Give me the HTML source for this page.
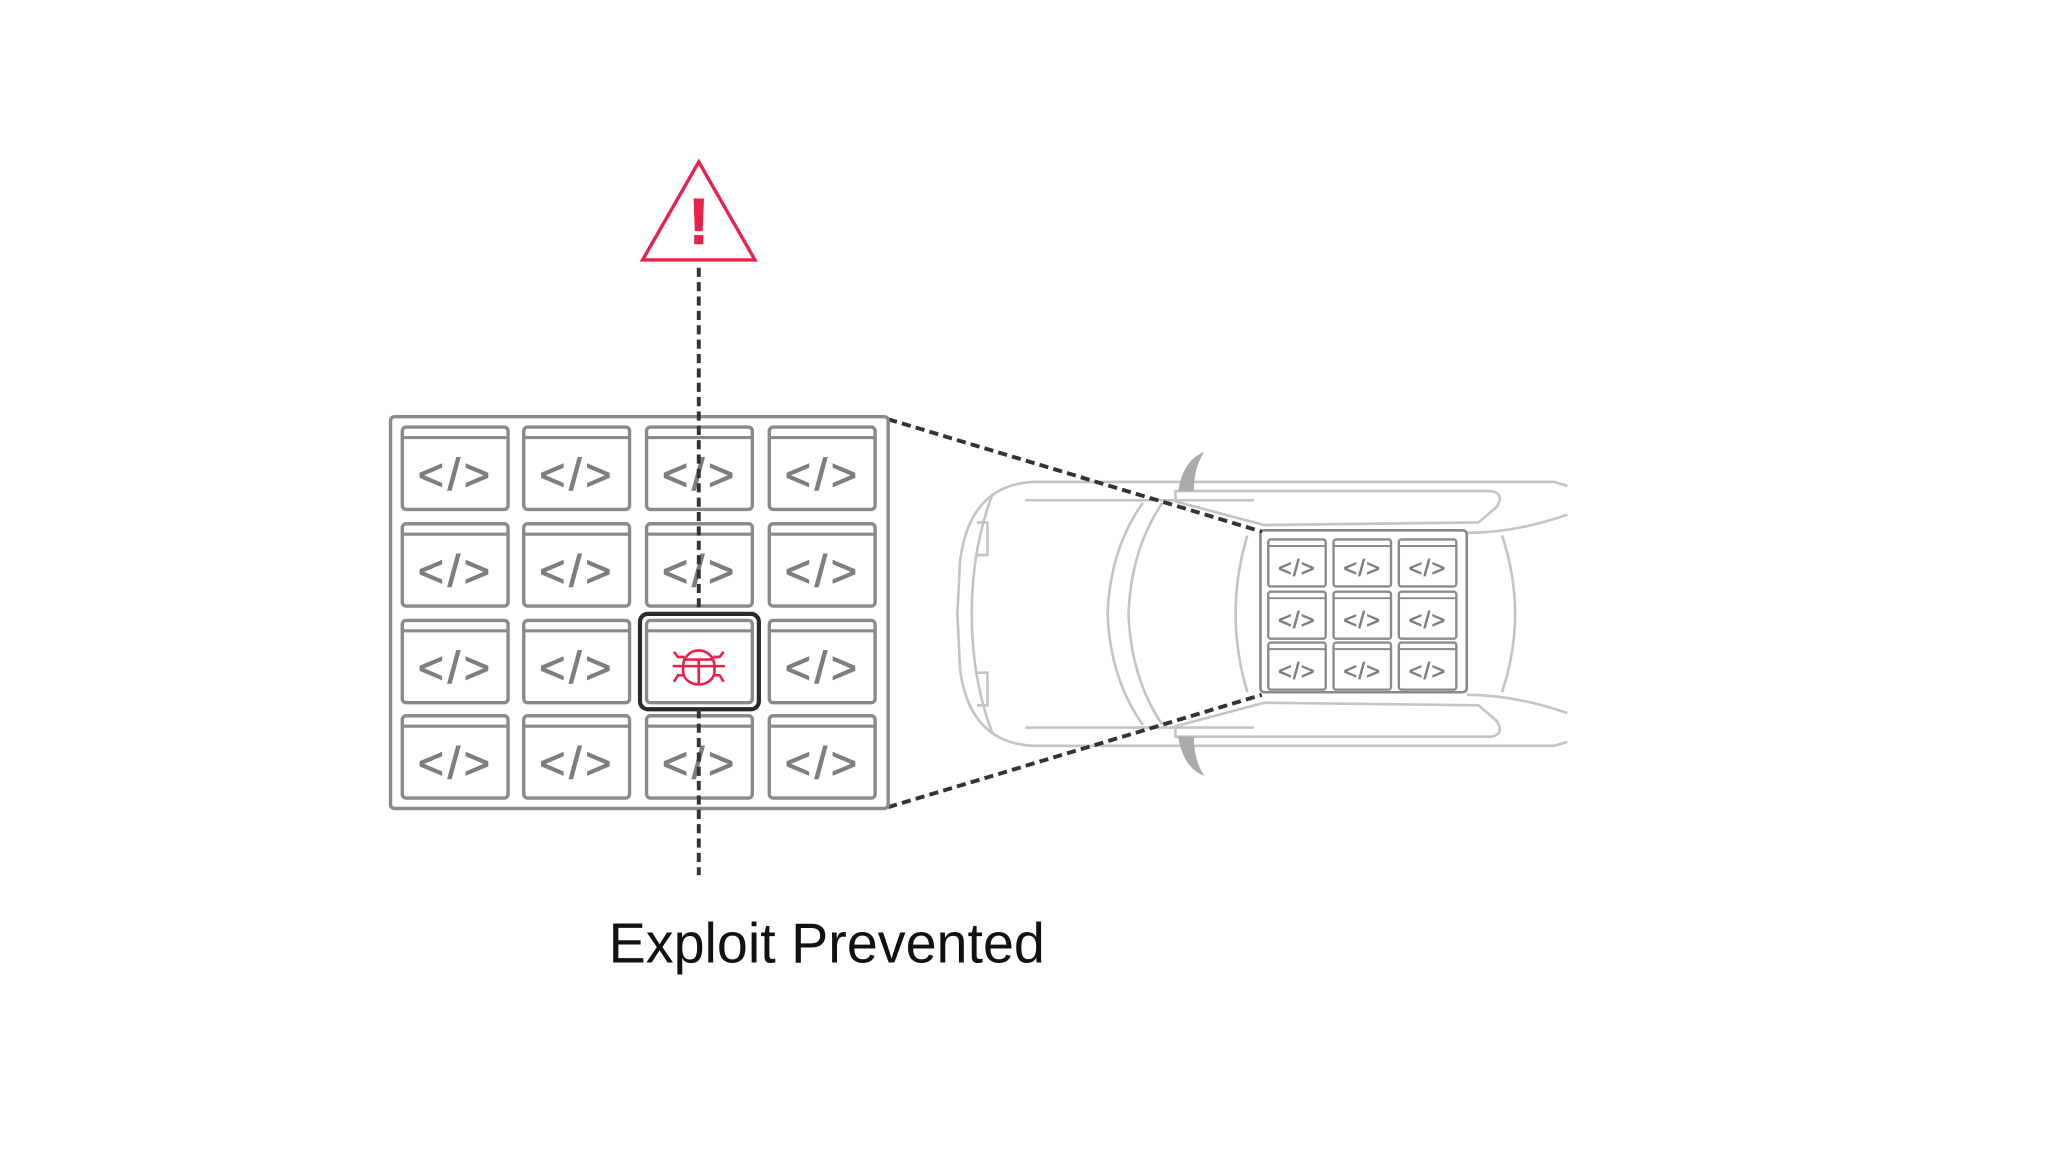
<!DOCTYPE html>
<html><head><meta charset="utf-8"><style>
html,body{margin:0;padding:0;background:#fff;}
svg{display:block;}
</style></head><body>
<svg width="2048" height="1152" viewBox="0 0 1568 882" xmlns="http://www.w3.org/2000/svg">
<defs>
<g id="cell">
 <rect x="0" y="0" width="81" height="63" rx="3" fill="#fff" stroke="#8a8a8a" stroke-width="2.6"/>
 <line x1="0" y1="8" x2="81" y2="8" stroke="#8a8a8a" stroke-width="2.4"/>
 <text x="41" y="48" text-anchor="middle" font-family="Liberation Sans, sans-serif" font-size="34" fill="#7e7e7e" stroke="#7e7e7e" stroke-width="0.8" letter-spacing="3">&lt;/&gt;</text>
</g>
<g id="scell">
 <rect x="0" y="0" width="44" height="36" rx="2" fill="#fff" stroke="#8a8a8a" stroke-width="1.8"/>
 <line x1="0" y1="5" x2="44" y2="5" stroke="#8a8a8a" stroke-width="1.5"/>
 <text x="22" y="28" text-anchor="middle" font-family="Liberation Sans, sans-serif" font-size="18" fill="#7e7e7e" stroke="#7e7e7e" stroke-width="0.5" letter-spacing="1">&lt;/&gt;</text>
</g>
</defs>

<!-- car -->
<g fill="none" stroke="#c4c4c4" stroke-width="2">
 <path d="M1200 372 L1190 369 L790 369 Q742 372 735 430 L733 470 L735 512 Q742 568 790 571 L1190 571 L1200 568"/>
 <path d="M785 383 L960 383 M785 557 L960 557"/>
 <path d="M760 378 Q744 420 744 470 Q744 520 760 562"/>
 <path d="M748 400 L756 400 L756 425 L748 425 M748 515 L756 515 L756 540 L748 540"/>
 <path d="M875 385 Q850 420 848 470 Q850 520 875 555"/>
 <path d="M890 385 Q866 420 864 470 Q866 520 890 555"/>
 <path d="M955 410 Q946 440 946 470 Q946 500 955 530"/>
 <path d="M1150 410 Q1160 440 1160 470 Q1160 500 1150 530"/>
 <path d="M900 376 L1142 376 Q1152 378 1146 388 L1132 400 L968 402 Q930 392 900 384 Z"/>
 <path d="M900 564 L1142 564 Q1152 562 1146 552 L1132 540 L968 538 Q930 548 900 556 Z"/>
 <path d="M1123 408 Q1160 408 1200 394 M1123 532 Q1160 532 1200 546"/>
</g>
<path d="M922 346 Q906 352 902 376 L914 376 Q914 358 922 346 Z" fill="#aaa"/>
<path d="M922 594 Q906 588 902 564 L914 564 Q914 582 922 594 Z" fill="#aaa"/>

<!-- small grid -->
<rect x="965" y="406" width="158" height="124" rx="3" fill="#fff" stroke="#8a8a8a" stroke-width="2"/>
<use href="#scell" x="971" y="413"/><use href="#scell" x="1021" y="413"/><use href="#scell" x="1071" y="413"/>
<use href="#scell" x="971" y="453"/><use href="#scell" x="1021" y="453"/><use href="#scell" x="1071" y="453"/>
<use href="#scell" x="971" y="492"/><use href="#scell" x="1021" y="492"/><use href="#scell" x="1071" y="492"/>

<!-- dashed zoom lines -->
<g stroke="#333" stroke-width="3" stroke-dasharray="7,4" fill="none">
 <line x1="680" y1="321" x2="966" y2="407"/>
 <line x1="680" y1="618" x2="966" y2="532"/>
</g>

<!-- big grid -->
<rect x="299" y="319" width="381" height="300" rx="3" fill="#fff" stroke="#8a8a8a" stroke-width="2.6"/>
<g>
 <use href="#cell" x="308" y="327"/><use href="#cell" x="401" y="327"/><use href="#cell" x="495" y="327"/><use href="#cell" x="589" y="327"/>
 <use href="#cell" x="308" y="401"/><use href="#cell" x="401" y="401"/><use href="#cell" x="495" y="401"/><use href="#cell" x="589" y="401"/>
 <use href="#cell" x="308" y="475"/><use href="#cell" x="401" y="475"/><use href="#cell" x="589" y="475"/>
 <use href="#cell" x="308" y="548"/><use href="#cell" x="401" y="548"/><use href="#cell" x="495" y="548"/><use href="#cell" x="589" y="548"/>
</g>
<!-- bug cell -->
<rect x="495" y="475" width="81" height="63" rx="3" fill="#fff" stroke="#8a8a8a" stroke-width="2.6"/>
<line x1="495" y1="483" x2="576" y2="483" stroke="#8a8a8a" stroke-width="2.4"/>
<rect x="490" y="470" width="91" height="73" rx="6" fill="none" stroke="#2a2a2a" stroke-width="3.2"/>
<g stroke="#e8224a" stroke-width="2" fill="none">
 <path d="M523 510 A12 12 0 0 1 547 510 L547 514 A12 10 0 0 1 523 514 Z"/>
 <line x1="523" y1="505" x2="547" y2="505"/>
 <line x1="535" y1="505" x2="535" y2="523"/>
 <line x1="515" y1="510" x2="555" y2="510"/>
 <path d="M516 499 L519 503 L524 503 M554 499 L551 503 L546 503 M516 522 L519 517 L524 517 M554 522 L551 517 L546 517"/>
</g>

<!-- vertical dashed -->
<g stroke="#333" stroke-width="3" stroke-dasharray="7,4">
 <line x1="535" y1="205" x2="535" y2="470"/>
 <line x1="535" y1="543" x2="535" y2="670"/>
</g>

<!-- warning triangle -->
<path d="M535 124 L578 199 L492 199 Z" fill="#fff" stroke="#e8224a" stroke-width="2.6" stroke-linejoin="miter"/>
<path d="M531 152 L539 152 L538 177 L532 177 Z" fill="#e8224a"/>
<rect x="531.5" y="180" width="7" height="7" fill="#e8224a"/>

<text x="633" y="737" text-anchor="middle" font-family="Liberation Sans, sans-serif" font-size="43" fill="#111" textLength="334" lengthAdjust="spacingAndGlyphs">Exploit Prevented</text>
</svg>
</body></html>
